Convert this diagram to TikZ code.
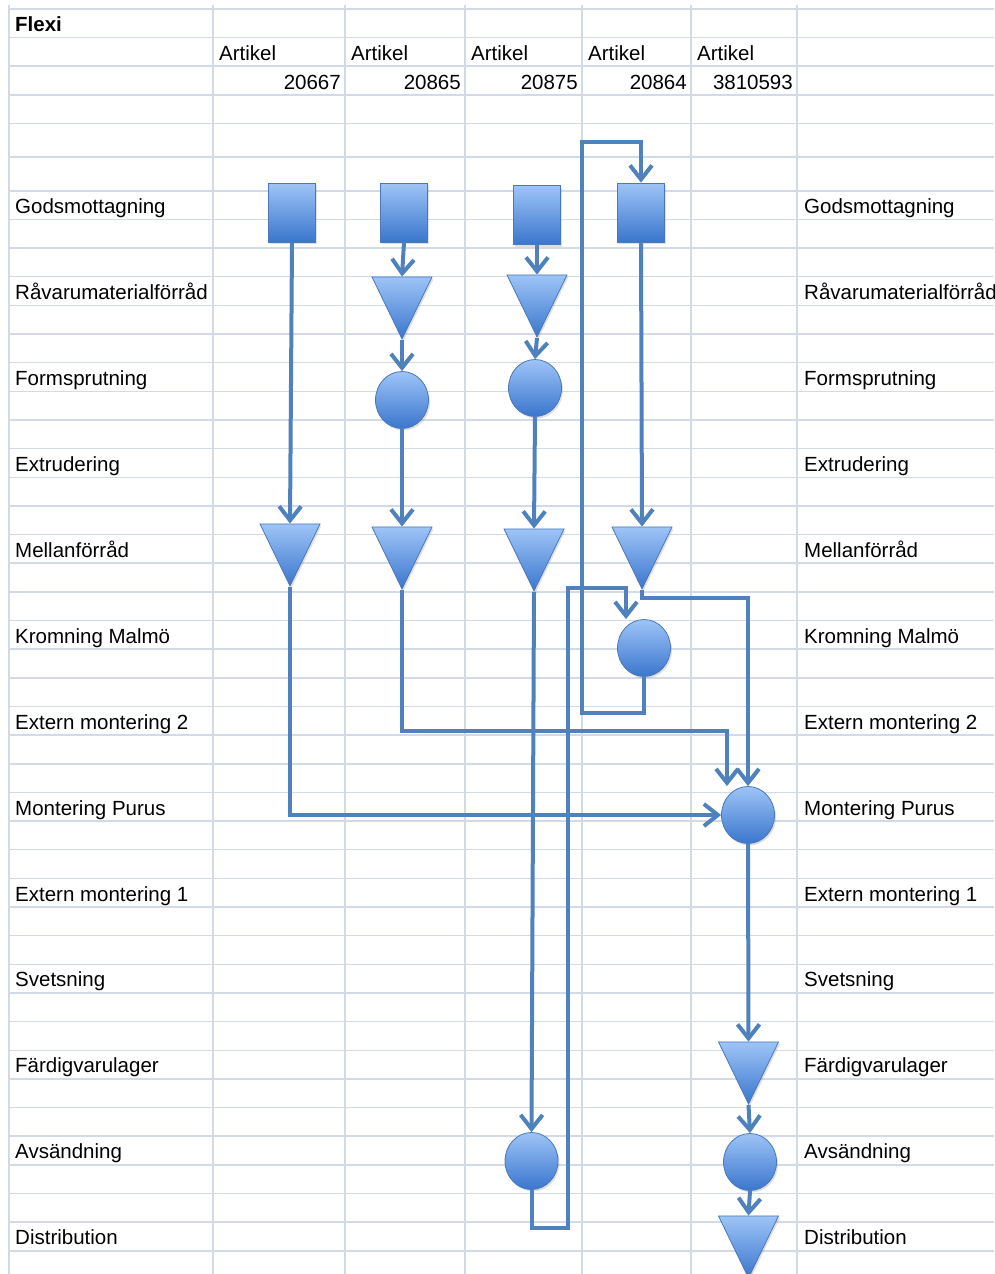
\documentclass[tikz,border=0pt]{standalone}
\usepackage{fontspec}
\setmainfont{Liberation Sans}
\usetikzlibrary{arrows.meta,shapes.geometric,shadows}

\definecolor{flowblue}{RGB}{79,129,189}
\definecolor{shapetop}{RGB}{158,196,247}
\definecolor{shapebot}{RGB}{58,118,205}
\definecolor{shapeedge}{RGB}{74,120,185}
\definecolor{gridblue}{RGB}{210,217,231}

\begin{document}
\begin{tikzpicture}[
  x=1pt, y=-1pt,
  font=\fontsize{20.5}{24}\selectfont,
  >={Straight Barb[length=14pt,width=22pt,line width=4pt]},
  gridline/.style={draw=gridblue, line width=1.5pt},
  cell/.style    ={anchor=base west, inner sep=0pt},
  item/.style    ={draw=shapeedge, line width=0.8pt, top color=shapetop, bottom color=shapebot,
                   inner sep=0pt, drop shadow={shadow xshift=1.5pt, shadow yshift=-2pt, opacity=.25}},
  proc/.style    ={item, rectangle, minimum width=47pt, minimum height=59pt},
  lager/.style   ={item, isosceles triangle, isosceles triangle stretches, shape border rotate=270,
                   minimum width=60pt, minimum height=62pt},
  op/.style      ={item, ellipse, minimum width=53pt, minimum height=57pt},
  flow/.style    ={->, draw=flowblue, line width=4pt,
                   preaction={draw=black!45, opacity=.35, transform canvas={shift={(1pt,-1.5pt)}}}}
]
\useasboundingbox (0,0) rectangle (994,1274);
\clip (0,0) rectangle (994,1274);

% ==================================================
% SHEET GRID
% ==================================================
\foreach \y in {9,37.7,66,95,123.3,157}
  \draw[gridline] (9,\y) -- (994,\y);
\foreach \k in {0,...,37}
  \draw[gridline] (9,{190.75+28.65*\k}) -- (994,{190.75+28.65*\k});
\foreach \x in {9,213,345,465,582,691,797}
  \draw[gridline] (\x,5) -- (\x,1274);

% ==================================================
% HEADER
% ==================================================
\node[cell, font=\fontsize{20.5}{24}\selectfont\bfseries] (title) at (15,31.7) {Flexi};
\foreach \i/\l/\r/\num in {1/213/345/20667, 2/345/465/20865, 3/465/582/20875,
                           4/582/691/20864, 5/691/797/3810593} {
  \node[cell] (art\i) at ({\l+6},60) {Artikel};
  \node[cell, anchor=base east] (nr\i) at ({\r-4},89) {\num};
}

% stage names, left and right of the flow
\foreach \name [count=\i from 0] in {Godsmottagning, Råvarumaterialförråd, Formsprutning,
    Extrudering, Mellanförråd, Kromning Malmö, Extern montering 2, Montering Purus,
    Extern montering 1, Svetsning, Färdigvarulager, Avsändning, Distribution} {
  \node[cell] (lbl\i)  at (15,{213.4+85.95*\i})  {\name};
  \node[cell] (rlbl\i) at (804,{213.4+85.95*\i}) {\name};
}

% ==================================================
% SYMBOLS
% ==================================================
% Godsmottagning
\node[proc] (gm1) at (292,212.5) {};
\node[proc] (gm2) at (404,212.5) {};
\node[proc] (gm3) at (537,215) {};
\node[proc] (gm4) at (641,212.5) {};

% Råvarumaterialförråd + Formsprutning
\node[lager, anchor=apex] (rv2) at (402,340) {};
\node[lager, anchor=apex] (rv3) at (537,338) {};
\node[op] (fs2) at (402,400) {};
\node[op] (fs3) at (535,388) {};

% Mellanförråd
\node[lager, anchor=apex] (mf1) at (290,587) {};
\node[lager, anchor=apex] (mf2) at (402,590) {};
\node[lager, anchor=apex] (mf3) at (534,592) {};
\node[lager, anchor=apex] (mf4) at (642,590) {};

% Kromning / Montering Purus
\node[op] (krom)  at (644,648) {};
\node[op] (purus) at (748,815) {};

% Färdigvarulager, Avsändning, Distribution
\node[lager, anchor=apex] (fvl) at (748.5,1105) {};
\node[op] (avs3) at (531.5,1161) {};
\node[op] (avs5) at (750,1162) {};
\node[lager, anchor=apex] (dist) at (748.5,1279) {};

% ==================================================
% FLOWS
% ==================================================
% 20667
\draw[flow] (gm1.south) -- (mf1.north);
\draw[flow] (mf1.apex) |- (purus.west);

% 20865
\draw[flow] (gm2.south) -- (rv2.north);
\draw[flow] (rv2.apex) -- (fs2.north);
\draw[flow] (fs2.south) -- (mf2.north);
\coordinate (via2) at (727,731);
\draw[flow] (mf2.apex) |- (via2) -- (via2 |- purus.north);

% 20875 (out to Avsändning, then back up to Kromning)
\draw[flow] (gm3.south) -- (rv3.north);
\draw[flow] (rv3.apex) -- (fs3.north);
\draw[flow] (fs3.south) -- (mf3.north);
\draw[flow] (mf3.apex) -- (avs3.north);
\coordinate (back1) at (568,1228);
\coordinate (back2) at (626,588);
\draw[flow] (avs3.south) |- (back1) |- (back2) -- (back2 |- krom.north);

% 20864 (Kromning loops back to Godsmottagning)
\coordinate (loop1) at (582,713);
\coordinate (loop2) at (641,142);
\draw[flow] (krom.south) |- (loop1) |- (loop2) -- (gm4.north);
\draw[flow] (gm4.south) -- (mf4.north);
\coordinate (via4) at (748,598);
\draw[flow] (mf4.apex) |- (via4) -- (purus.north);

% 3810593
\draw[flow] (purus.south) -- (fvl.north);
\draw[flow] (fvl.apex) -- (avs5.north);
\draw[flow] (avs5.south) -- (dist.north);

\end{tikzpicture}
\end{document}
